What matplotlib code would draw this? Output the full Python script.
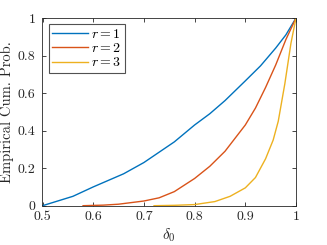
import matplotlib
matplotlib.use("Agg")
import matplotlib.pyplot as plt

# empirical cumulative probability curves
x_r1 = [0.50, 0.53, 0.56, 0.60, 0.63, 0.66, 0.70, 0.73, 0.76, 0.80, 0.83, 0.86, 0.90, 0.93, 0.96, 0.98, 1.00]
y_r1 = [0.00, 0.025, 0.05, 0.10, 0.135, 0.17, 0.23, 0.285, 0.34, 0.43, 0.49, 0.56, 0.665, 0.745, 0.84, 0.91, 1.00]

x_r2 = [0.58, 0.62, 0.65, 0.70, 0.73, 0.76, 0.80, 0.83, 0.86, 0.90, 0.92, 0.94, 0.96, 0.98, 1.00]
y_r2 = [0.00, 0.003, 0.008, 0.025, 0.042, 0.075, 0.145, 0.21, 0.29, 0.43, 0.52, 0.63, 0.75, 0.885, 1.00]

x_r3 = [0.72, 0.76, 0.80, 0.84, 0.87, 0.90, 0.92, 0.94, 0.955, 0.965, 0.978, 0.99, 1.00]
y_r3 = [0.00, 0.002, 0.006, 0.022, 0.05, 0.095, 0.15, 0.25, 0.35, 0.45, 0.65, 0.865, 1.00]

plt.rcParams['font.family'] = 'serif'
plt.rcParams['font.serif'] = ['cmr10']
plt.rcParams['mathtext.fontset'] = 'cm'
plt.rcParams['axes.formatter.use_mathtext'] = True
plt.rcParams['font.size'] = 10

fig = plt.figure(figsize=(3.27, 2.45), dpi=100)
ax = fig.add_axes([42.5 / 327, 1 - 205.7 / 245, 253.5 / 327, 187.7 / 245])

ax.plot(x_r1, y_r1, color='#0072BD', lw=1.0, label='$r = 1$')
ax.plot(x_r2, y_r2, color='#D95319', lw=1.0, label='$r = 2$')
ax.plot(x_r3, y_r3, color='#EDB120', lw=1.0, label='$r = 3$')

ax.set_xlim(0.5, 1)
ax.set_ylim(0, 1)
ax.set_xticks([0.5, 0.6, 0.7, 0.8, 0.9, 1])
ax.set_xticklabels(['0.5', '0.6', '0.7', '0.8', '0.9', '1'])
ax.set_yticks([0, 0.2, 0.4, 0.6, 0.8, 1])
ax.set_yticklabels(['0', '0.2', '0.4', '0.6', '0.8', '1'])
ax.tick_params(direction='in', top=True, right=True, length=3, width=0.6,
               colors='#262626', labelcolor='#262626', labelsize=10)
ax.tick_params(axis='x', pad=4)
ax.tick_params(axis='y', pad=5)
for s in ax.spines.values():
    s.set_color('#262626')
    s.set_linewidth(0.6)

ax.set_xlabel(r'$\delta_0$', fontsize=11, color='#262626', labelpad=2)
ax.set_ylabel('Empirical Cum. Prob.', fontsize=10.5, color='#262626', labelpad=3)

leg = ax.legend(loc='upper left', fontsize=10, frameon=True, fancybox=False,
                edgecolor='#262626', handlelength=2.6, handletextpad=0.2,
                borderpad=0.25, labelspacing=0.1, borderaxespad=0.45)
leg.get_frame().set_linewidth(0.8)

fig.savefig('out.png', dpi=100)
